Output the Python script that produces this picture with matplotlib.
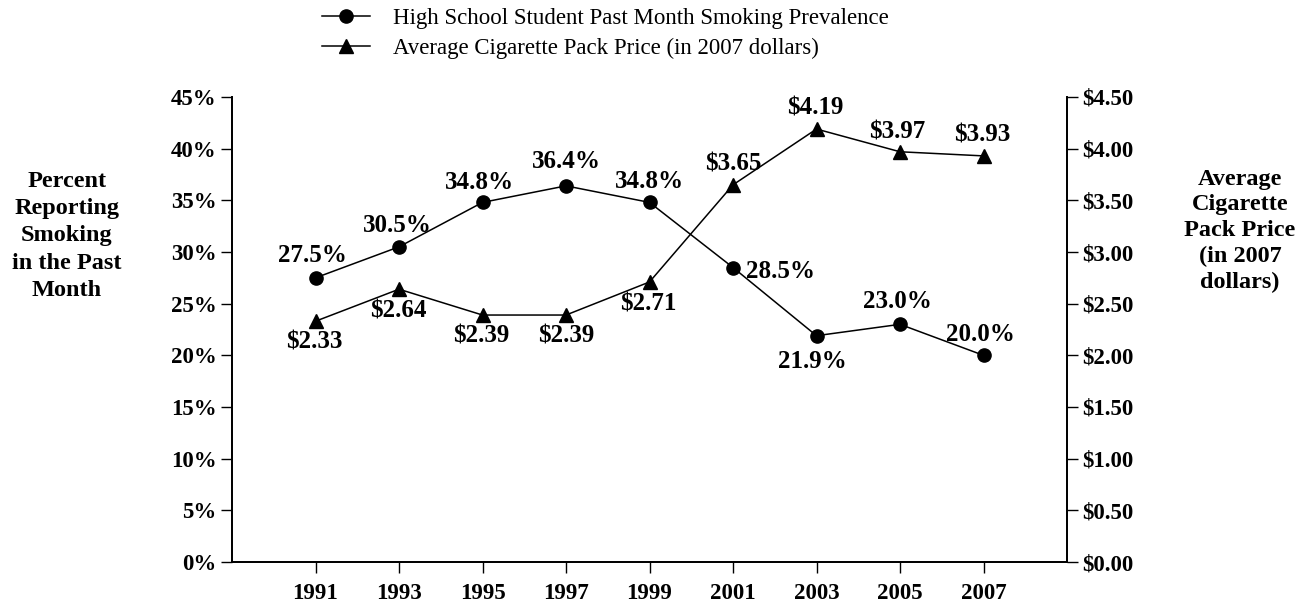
import matplotlib
matplotlib.use("Agg")
import matplotlib.pyplot as plt
from matplotlib.lines import Line2D

plt.rcParams['font.family'] = ['Liberation Serif', 'DejaVu Serif']

years = ["1991", "1993", "1995", "1997", "1999", "2001", "2003", "2005", "2007"]
prevalence = [27.5, 30.5, 34.8, 36.4, 34.8, 28.5, 21.9, 23.0, 20.0]
price = [2.33, 2.64, 2.39, 2.39, 2.71, 3.65, 4.19, 3.97, 3.93]

pct_ticks = [0, 5, 10, 15, 20, 25, 30, 35, 40, 45]
price_ticks = [0, 0.5, 1.0, 1.5, 2.0, 2.5, 3.0, 3.5, 4.0, 4.5]

# label placement for each prevalence point: (dx px, dy px, ha)
prev_offsets = [(-3, 22, 'center'), (-2, 21, 'center'), (-3, 20, 'center'),
                (0, 24, 'center'), (0, 21, 'center'), (13, -4, 'left'),
                (-4, -26, 'center'), (-3, 23, 'center'), (-3, 21, 'center')]
price_offsets = [(-1, -21, 'center'), (-1, -22, 'center'), (-1, -21, 'center'),
                 (0, -21, 'center'), (-1, -22, 'center'), (0, 21, 'center'),
                 (-1, 21, 'center'), (-3, 20, 'center'), (-1, 21, 'center')]

PX = 72 / 100  # points per pixel at dpi 100

fig = plt.figure(figsize=(13.13, 6.05), dpi=100)
ax = fig.add_axes([232 / 1313, 1 - 562 / 605, (1067 - 232) / 1313, (562 - 97) / 605])
ax2 = ax.twinx()

x = list(range(len(years)))
ax.plot(x, prevalence, color='black', lw=1.1, marker='o', ms=9.5, zorder=3,
        clip_on=False)
ax2.plot(x, price, color='black', lw=1.1, marker='^', ms=10, zorder=3,
         clip_on=False)

ax.set_xlim(-1, len(years))
ax.set_ylim(0, 45)
ax2.set_ylim(0, 4.5)

tick_fs = 16.5
ax.set_xticks(x)
ax.set_xticklabels(years, fontsize=tick_fs, fontweight='bold')
ax.set_yticks(pct_ticks)
ax.set_yticklabels([f"{t}%" for t in pct_ticks], fontsize=tick_fs, fontweight='bold')
ax2.set_yticks(price_ticks)
ax2.set_yticklabels([f"${t:.2f}" for t in price_ticks], fontsize=tick_fs,
                    fontweight='bold')

for a in (ax, ax2):
    a.spines['top'].set_visible(False)
    for s in ('left', 'right', 'bottom'):
        a.spines[s].set_linewidth(1.3)
    a.tick_params(length=8, width=1, direction='out', pad=3)
ax.tick_params(axis='x', pad=7)

label_fs = 18
for xi, v, (dx, dy, ha) in zip(x, prevalence, prev_offsets):
    ax.annotate(f"{v:.1f}%", (xi, v), xytext=(dx * PX, dy * PX),
                textcoords='offset points', ha=ha, va='center',
                fontsize=label_fs, fontweight='bold')
for xi, v, (dx, dy, ha) in zip(x, price, price_offsets):
    ax2.annotate(f"${v:.2f}", (xi, v), xytext=(dx * PX, dy * PX),
                 textcoords='offset points', ha=ha, va='center',
                 fontsize=label_fs, fontweight='bold')

fig.text(67 / 1313, 1 - 236 / 605,
         "Percent\nReporting\nSmoking\nin the Past\nMonth",
         ha='center', va='center', fontsize=17.5, fontweight='bold',
         linespacing=1.4)
fig.text(1240 / 1313, 1 - 231 / 605,
         "Average\nCigarette\nPack Price\n(in 2007\ndollars)",
         ha='center', va='center', fontsize=17.5, fontweight='bold',
         linespacing=1.3)

handles = [
    Line2D([], [], color='black', lw=1.1, marker='o', ms=9.5),
    Line2D([], [], color='black', lw=1.1, marker='^', ms=10),
]
labels = ["High School Student Past Month Smoking Prevalence",
          "Average Cigarette Pack Price (in 2007 dollars)"]
fig.legend(handles, labels, loc='upper left',
           bbox_to_anchor=(322 / 1313, 1 - 8 / 605), frameon=False,
           fontsize=16.5, handlelength=2.1, handletextpad=1.0,
           labelspacing=0.4, borderaxespad=0, borderpad=0)

fig.savefig("out.png", dpi=100)
